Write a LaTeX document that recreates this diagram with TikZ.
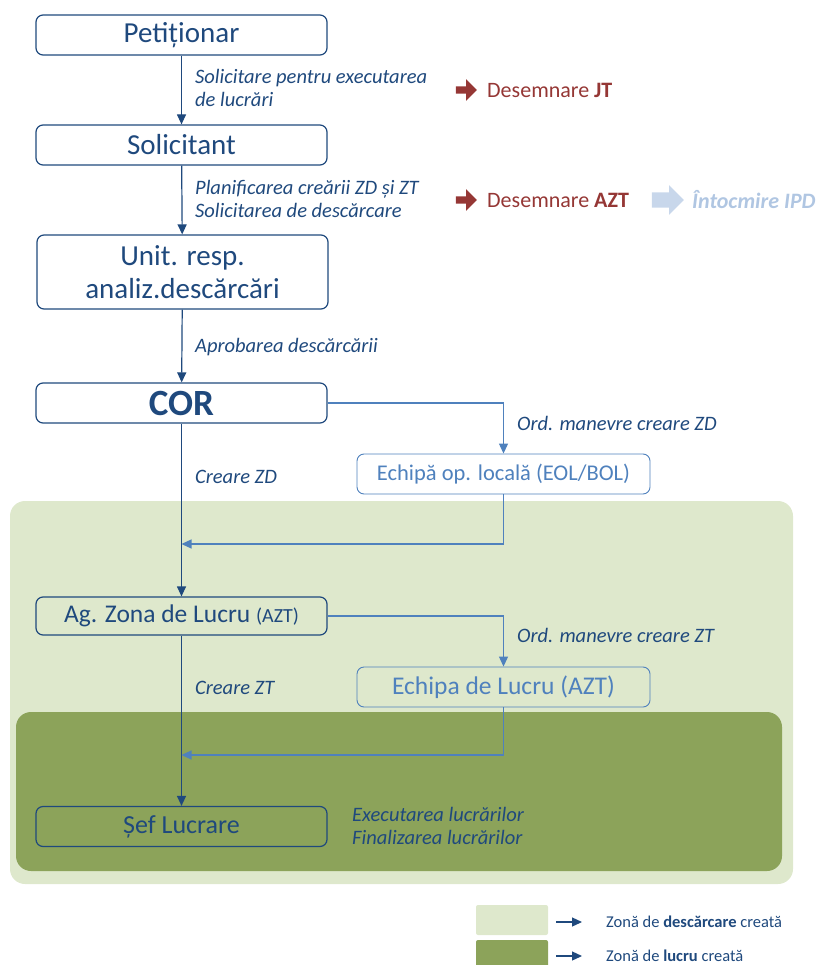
\documentclass[tikz,border=0pt]{standalone}
\usepackage{fontspec}
\setmainfont{Carlito}
\usetikzlibrary{arrows.meta,shapes.arrows}
\definecolor{navy}{HTML}{1F497D}
\definecolor{sky}{HTML}{4F81BD}
\definecolor{brick}{HTML}{953735}
\definecolor{pale}{HTML}{B0C6E2}
\definecolor{zoned}{HTML}{DEE8CC}
\definecolor{zonel}{HTML}{8CA35A}
\tikzset{
    box/.style={draw=navy, text=navy, line width=1.2pt, rounded corners=7pt,
        minimum width=291pt, minimum height=40pt, inner sep=0pt,
        font=\fontsize{29}{33}\selectfont},
    sub/.style={draw=sky, text=sky, line width=0.9pt, rounded corners=7pt,
        minimum width=293pt, minimum height=40pt, inner sep=0pt},
    lab/.style={text=navy, anchor=west, align=left, inner sep=0pt,
        font=\fontsize{20.5}{23}\selectfont\itshape},
    note/.style={text=brick, anchor=west, inner sep=0pt, font=\fontsize{22}{25}\selectfont},
    key/.style={text=navy, anchor=west, inner sep=0pt, font=\fontsize{16.5}{18}\selectfont},
    flow/.style={-{Triangle[width=9pt,length=10pt]}, draw=navy, line width=1.2pt},
    branch/.style={-{Triangle[width=9pt,length=10pt]}, draw=sky, line width=1.2pt},
    blk/.style={single arrow, draw=none, inner sep=0pt}
}
\begin{document}
\begin{tikzpicture}[x=1pt,y=-1pt]
\useasboundingbox (0,0) rectangle (816,965);

% zones
\fill[zoned, rounded corners=15pt] (10,501) rectangle (793,884);
\fill[zonel, rounded corners=15pt] (16,712) rectangle (782,871);

% main chain
\node[box] at (181.5,35) (pet) {Petiționar};
\node[box] at (181.5,145) (sol) {Solicitant};
\node[box, minimum height=74pt, align=center] at (182.5,272) (unit) {Unit. resp.\\analiz.descărcări};
\node[box, font=\fontsize{37}{40}\selectfont\bfseries] at (181.5,403) (cor) {COR};
\node[box, minimum height=38pt, font=\fontsize{25.5}{28}\selectfont] at (181.5,616) (azt)
    {Ag. Zona de Lucru {\fontsize{20}{22}\selectfont(AZT)}};
\node[box, font=\fontsize{26}{30}\selectfont] at (181.5,826.5) (sef) {Șef Lucrare};

\draw[flow] (pet) -- (sol);
\draw[flow] (sol) -- (unit);
\draw[flow] (unit) -- (cor);
\draw[flow] (cor) -- (azt);
\draw[flow] (azt) -- (sef);

\node[lab] at (195,88) (l1) {Solicitare pentru executarea\\de lucrări};
\node[lab] at (195,199) (l2) {Planificarea creării ZD și ZT\\Solicitarea de descărcare};
\node[lab] at (195,347) (l3) {Aprobarea descărcării};
\node[lab] at (195,477) (l4) {Creare ZD};
\node[lab] at (195,688) (l5) {Creare ZT};
\node[lab] at (352,826) (l6) {Executarea lucrărilor\\Finalizarea lucrărilor};

% local teams
\node[sub, font=\fontsize{22.5}{26}\selectfont, fill=white] at (503.5,474) (eol) {Echipă op. locală (EOL/BOL)};
\node[sub, font=\fontsize{25.5}{28}\selectfont] at (503.5,687) (ech) {Echipa de Lucru (AZT)};
\coordinate (m1) at (181.5,544);
\coordinate (m2) at (181.5,755);

\draw[branch] (cor.east) -| (eol.north);
\draw[branch] (eol.south) |- (m1);
\draw[branch] (azt.east) -| (ech.north);
\draw[branch] (ech.south) |- (m2);

\node[lab] at (517,423) (l7) {Ord. manevre creare ZD};
\node[lab] at (517,635) (l8) {Ord. manevre creare ZT};

% side notes
\node[blk, fill=brick, minimum height=21pt, minimum width=13pt, inner ysep=3.5pt] at (464.5,90) (r1) {};
\node[note] at (487,90) (jt) {Desemnare \textbf{JT}};
\node[blk, fill=brick, minimum height=21pt, minimum width=13pt, inner ysep=3.5pt] at (464.5,200) (r2) {};
\node[note] at (487,200) (azt2) {Desemnare \textbf{AZT}};
\node[blk, fill=pale!70, minimum height=32pt, minimum width=26pt, inner ysep=7.5pt] at (664,200) (r3) {};
\node[note, text=pale, font=\fontsize{22}{25}\selectfont\bfseries\itshape] at (692,200) (ipd) {Întocmire IPD};

% legend
\fill[zoned, rounded corners=2pt] (476,905) rectangle (548,935);
\fill[zonel, rounded corners=2pt] (476,940) rectangle (548,975);
\coordinate (k1) at (556,922);
\coordinate (k2) at (582,922);
\coordinate (k3) at (556,956);
\coordinate (k4) at (582,956);
\draw[flow] (k1) -- (k2);
\draw[flow] (k3) -- (k4);
\node[key] at (606,922) (t1) {Zonă de \textbf{descărcare} creată};
\node[key] at (606,956) (t2) {Zonă de \textbf{lucru} creată};
\end{tikzpicture}
\end{document}
